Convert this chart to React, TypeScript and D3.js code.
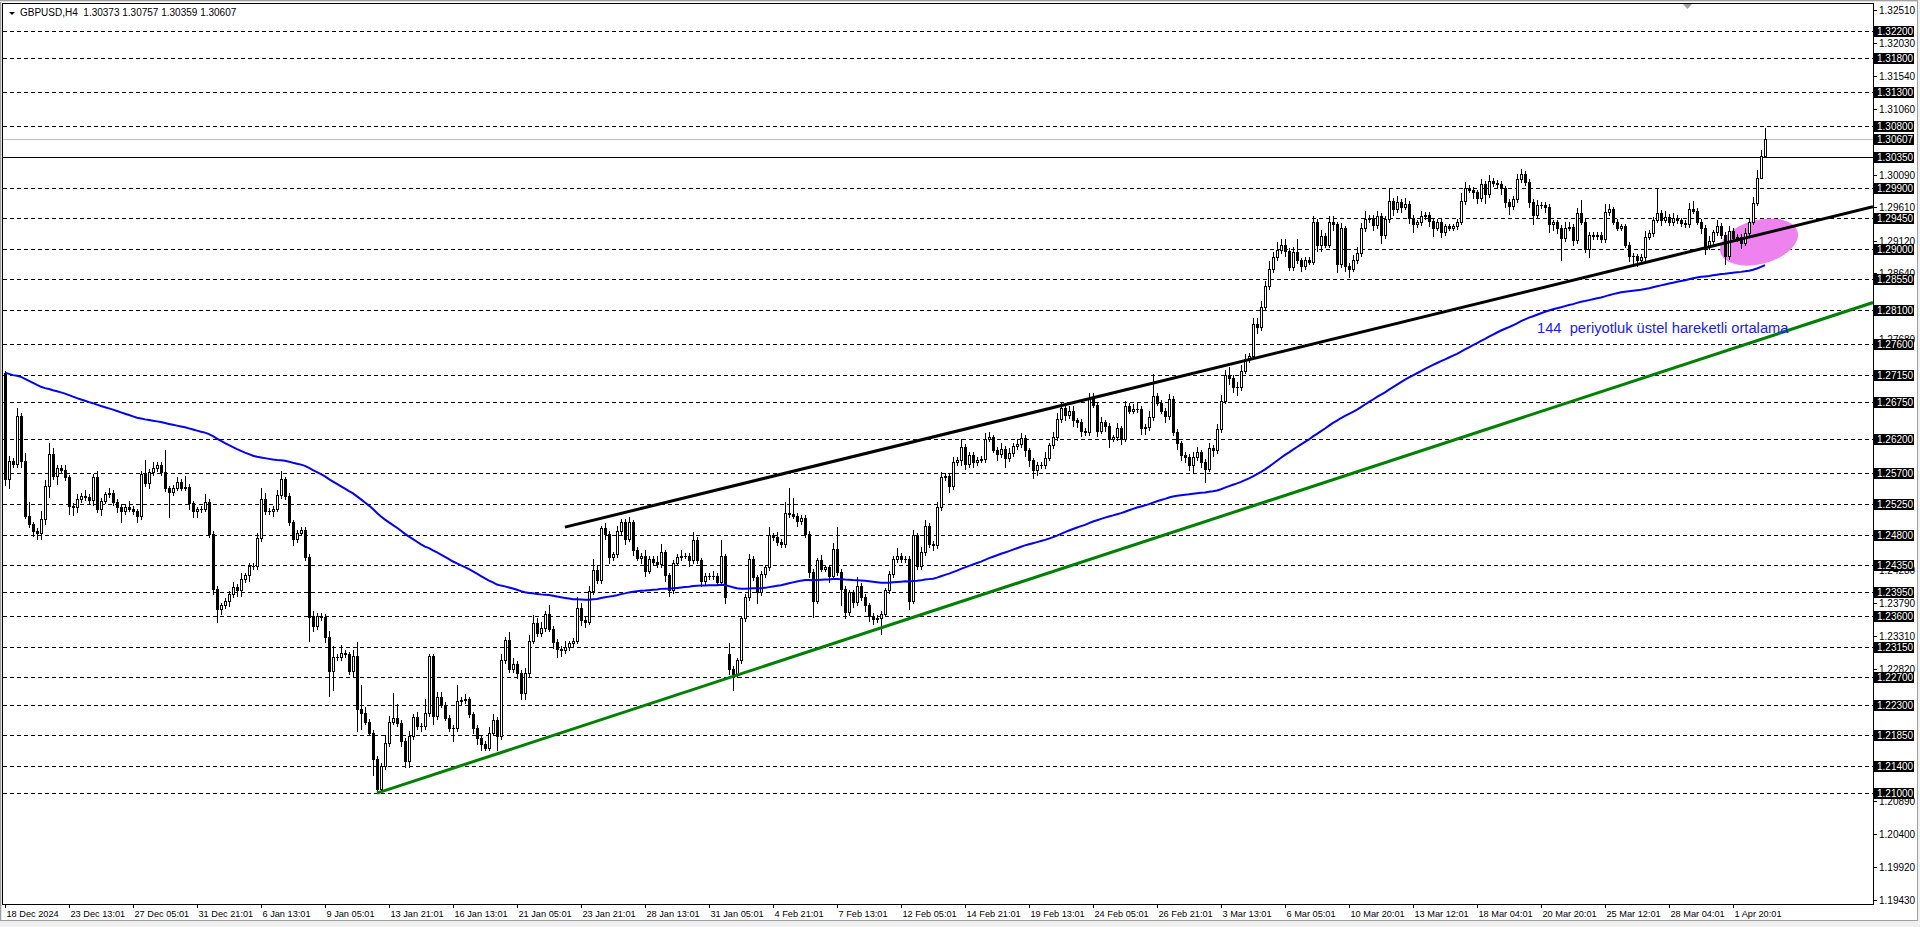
import { useRef, useEffect } from 'react';
import * as d3 from 'd3';

// GBPUSD H4 closes, pips above 1.20000, bar 0 = 18 Dec 2024
const closePips = [
    561, 588, 584, 654, 588, 508, 495, 486, 482, 503,
    552, 599, 566, 578, 575, 564, 522, 521, 532, 537,
    535, 531, 565, 517, 530, 539, 541, 528, 521, 514,
    521, 518, 514, 507, 569, 556, 572, 578, 582, 572,
    548, 542, 549, 557, 549, 550, 526, 514, 517, 518,
    528, 481, 400, 371, 376, 383, 393, 403, 398, 415,
    420, 434, 434, 475, 533, 515, 515, 518, 538, 561,
    537, 498, 473, 483, 487, 447, 359, 346, 361, 359,
    330, 279, 300, 300, 306, 304, 279, 302, 223, 218,
    205, 189, 150, 106, 140, 174, 205, 211, 203, 177,
    147, 184, 212, 199, 199, 218, 301, 213, 241, 230,
    211, 196, 196, 235, 237, 238, 216, 196, 181, 172,
    167, 189, 208, 184, 296, 325, 282, 290, 277, 247,
    276, 324, 350, 335, 343, 364, 342, 322, 312, 310,
    315, 320, 324, 372, 355, 352, 397, 428, 413, 489,
    481, 447, 451, 485, 499, 474, 498, 458, 446, 449,
    427, 444, 440, 437, 454, 420, 398, 439, 447, 449,
    449, 442, 472, 442, 412, 419, 419, 419, 411, 448,
    388, 283, 275, 295, 357, 388, 444, 417, 395, 422,
    432, 479, 476, 469, 466, 512, 510, 508, 500, 505,
    481, 425, 383, 442, 430, 432, 419, 459, 425, 400,
    366, 395, 381, 405, 388, 376, 361, 356, 358, 364,
    398, 422, 444, 449, 444, 444, 383, 479, 434, 454,
    493, 466, 465, 520, 564, 566, 551, 586, 590, 609,
    584, 597, 587, 590, 591, 621, 623, 605, 598, 606,
    592, 600, 610, 613, 622, 604, 589, 575, 582, 582,
    593, 611, 623, 650, 666, 656, 661, 648, 646, 633,
    631, 680, 671, 633, 645, 640, 621, 623, 636, 621,
    669, 662, 664, 665, 636, 638, 653, 684, 674, 662,
    654, 679, 631, 614, 597, 594, 583, 594, 601, 587,
    577, 607, 604, 635, 677, 714, 710, 697, 697, 721,
    738, 743, 790, 785, 815, 845, 870, 888, 898, 906,
    897, 873, 895, 883, 875, 884, 881, 940, 905, 919,
    906, 940, 936, 878, 930, 875, 871, 883, 894, 930,
    944, 945, 935, 948, 920, 944, 970, 958, 969, 962,
    966, 946, 936, 939, 948, 950, 941, 931, 940, 925,
    933, 931, 933, 940, 970, 990, 987, 983, 975, 995,
    980, 1000, 997, 995, 989, 969, 963, 973, 1002, 1010,
    998, 969, 949, 964, 965, 962, 936, 939, 931, 916,
    931, 932, 913, 952, 940, 900, 921, 919, 921, 914,
    954, 958, 940, 931, 933, 906, 890, 889, 883, 888,
    918, 923, 943, 953, 943, 947, 939, 945, 942, 938,
    936, 959, 956, 940, 931, 904, 911, 924, 934, 920,
    889, 926, 916, 918, 909, 923, 940, 968, 1004, 1037,
    1061,
];

// opens that don't follow the previous close (first bar, 3 Feb gap)
const openPips: Record<number, number> = { 0: 717, 181: 305 };

// wick length per bar, one digit each, in 4 pip units
const upperWicks = [
    '1213135113', '2421121121', '2112112111', '1211151211', '8112141111',
    '3111111212', '1112421123', '1111111211', '1241311259', '2111132951',
    '1212151122', '1116121111', '1221213211', '2232213111', '2114212421',
    '2112112111', '2112311112', '1131111216', '1411112111', '1312149611',
    '1111211281', '1113111111', '1113111212', '2112211213', '1111122112',
    '1212211111', '2122212211', '1221211121', '2122112811', '1211111221',
    '1212223122', '2122223232', '2125111212', '1221211222', '3112115121',
    '2111211111', '1111321112', '1211111122', '1112111111', '2212511111',
    '3211111111', '2119121211', '1231112121', '1211121232', '4',
].join('');
const lowerWicks = [
    '2311211222', '2413113321', '1121211124', '1112112111', '1911112221',
    '1125212122', '1211111211', '1121119211', '2971111286', '1161111112',
    '2211211311', '1151111222', '1115111122', '2111111232', '1111221111',
    '2211121212', '2111122111', '1211211111', '2261111141', '1111111121',
    '1261112116', '2121122216', '1111113111', '1121112112', '2121111121',
    '3111122321', '1111121222', '1112123112', '1111221111', '2112222312',
    '5121112231', '1112111111', '2111211122', '1123123111', '1121311212',
    '1231112312', '1111111221', '3111223111', '1231123228', '1121113111',
    '1111112321', '1111211111', '1111231111', '3111211110', '0',
].join('');

const priceLevels = [
    1.322, 1.318, 1.313, 1.308, 1.299, 1.2945, 1.29, 1.2855, 1.281, 1.276,
    1.2715, 1.2675, 1.262, 1.257, 1.2525, 1.248, 1.2435, 1.2395, 1.236, 1.2315,
    1.227, 1.223, 1.2185, 1.214, 1.21,
];
const solidLevel = 1.3035;
const bidPrice = 1.30607;

const priceTicks = [
    '1.32510', '1.32030', '1.31540', '1.31060', '1.30570', '1.30090', '1.29610',
    '1.29120', '1.28640', '1.28160', '1.27680', '1.27190', '1.26700', '1.26220',
    '1.25740', '1.25250', '1.24770', '1.24280', '1.23790', '1.23310', '1.22820',
    '1.22340', '1.21860', '1.21370', '1.20890', '1.20400', '1.19920', '1.19430',
];

const timeLabels = [
    '18 Dec 2024', '23 Dec 13:01', '27 Dec 05:01', '31 Dec 21:01', '6 Jan 13:01',
    '9 Jan 05:01', '13 Jan 21:01', '16 Jan 13:01', '21 Jan 05:01', '23 Jan 21:01',
    '28 Jan 13:01', '31 Jan 05:01', '4 Feb 21:01', '7 Feb 13:01', '12 Feb 05:01',
    '14 Feb 21:01', '19 Feb 13:01', '24 Feb 05:01', '26 Feb 21:01', '3 Mar 13:01',
    '6 Mar 05:01', '10 Mar 20:01', '13 Mar 12:01', '18 Mar 04:01', '20 Mar 20:01',
    '25 Mar 12:01', '28 Mar 04:01', '1 Apr 20:01',
];
const barsPerLabel = 16;

const emaPeriod = 144;
const emaStart = 1.2718;

const blackTrend = [{ bar: 140, price: 1.2491 }, { bar: 440, price: 1.2923 }];
const greenTrend = [{ bar: 93, price: 1.21 }, { bar: 440, price: 1.2769 }];
const highlight = { bar: 438.5, price: 1.291 };
const note = { bar: 383, price: 1.2776, text: '144  periyotluk üstel hareketli ortalama' };
const header = 'GBPUSD,H4  1.30373 1.30757 1.30359 1.30607';

const FONT = "'Liberation Sans', Arial, sans-serif";

export default function App() {
    const svgRef = useRef<SVGSVGElement | null>(null);

    useEffect(() => {
        if (!svgRef.current) return;
        const svg = d3.select(svgRef.current);
        svg.selectAll('*').remove();

        const left = 3, top = 4, right = 1873, bottom = 904;
        const n = closePips.length;

        const x = d3.scaleLinear().domain([0, n - 1]).range([5, 5 + 4 * (n - 1)]);
        const y = d3.scaleLinear().domain([1.1943, 1.3251]).range([900, 10]);
        const toPrice = (p: number) => 1.2 + p / 10000;
        const ry = (p: number) => Math.round(y(p)) + 0.5;

        const bars = closePips.map((c, i) => {
            const o = openPips[i] ?? closePips[i - 1];
            const hi = Math.max(o, c) + 4 * +upperWicks[i];
            const lo = Math.min(o, c) - 4 * +lowerWicks[i];
            return { i, o: toPrice(o), c: toPrice(c), h: toPrice(hi), l: toPrice(lo) };
        });

        svg.append('rect').attr('width', 1920).attr('height', 927).attr('fill', '#fff');

        svg.append('defs').append('clipPath').attr('id', 'plot')
            .append('rect')
            .attr('x', left).attr('y', top)
            .attr('width', right - left).attr('height', bottom - top);

        const g = svg.append('g').attr('clip-path', 'url(#plot)');

        // horizontal levels
        g.append('g').selectAll('line').data(priceLevels).join('line')
            .attr('x1', left).attr('x2', right)
            .attr('y1', d => ry(d)).attr('y2', d => ry(d))
            .attr('stroke', '#000')
            .attr('stroke-dasharray', '4,3')
            .attr('shape-rendering', 'crispEdges');

        g.append('line')
            .attr('x1', left).attr('x2', right)
            .attr('y1', ry(bidPrice)).attr('y2', ry(bidPrice))
            .attr('stroke', '#c0c0c0').attr('shape-rendering', 'crispEdges');

        g.append('line')
            .attr('x1', left).attr('x2', right)
            .attr('y1', ry(solidLevel)).attr('y2', ry(solidLevel))
            .attr('stroke', '#000').attr('shape-rendering', 'crispEdges');

        // highlighted zone
        const ex = x(highlight.bar), ey = y(highlight.price);
        g.append('ellipse')
            .attr('cx', ex).attr('cy', ey)
            .attr('rx', 40).attr('ry', 22)
            .attr('transform', `rotate(-15 ${ex} ${ey})`)
            .attr('fill', '#EE82EE');

        // candles
        const cg = g.append('g').attr('shape-rendering', 'crispEdges');
        bars.forEach(b => {
            const cx = Math.round(x(b.i));
            const yh = Math.round(y(b.h));
            const yl = Math.round(y(b.l));
            const yt = Math.round(y(Math.max(b.o, b.c)));
            const yb = Math.round(y(Math.min(b.o, b.c)));
            cg.append('rect').attr('x', cx).attr('y', yh)
                .attr('width', 1).attr('height', yl - yh + 1).attr('fill', '#000');
            cg.append('rect').attr('x', cx - 1).attr('y', yt)
                .attr('width', 3).attr('height', yb - yt + 1).attr('fill', '#000');
            if (b.c > b.o && yb - yt >= 2) {
                cg.append('rect').attr('x', cx).attr('y', yt + 1)
                    .attr('width', 1).attr('height', yb - yt - 1).attr('fill', '#fff');
            }
        });

        // 144 EMA
        const alpha = 2 / (emaPeriod + 1);
        const ema: number[] = [];
        bars.forEach((b, i) => {
            ema.push(i === 0 ? emaStart : ema[i - 1] + alpha * (b.c - ema[i - 1]));
        });
        const line = d3.line<number>().x((_, i) => x(i)).y(d => y(d));
        g.append('path')
            .datum(ema)
            .attr('fill', 'none')
            .attr('stroke', '#0000ff')
            .attr('stroke-width', 2)
            .attr('d', line);

        // trend lines (rays to the right edge)
        const endBar = x.invert(right);
        const ray = (pts: { bar: number; price: number }[]) => {
            const [a, b] = pts;
            const slope = (b.price - a.price) / (b.bar - a.bar);
            return [[x(a.bar), y(a.price)], [x(endBar), y(a.price + slope * (endBar - a.bar))]] as [number, number][];
        };
        g.append('path')
            .attr('d', d3.line()(ray(greenTrend)))
            .attr('stroke', '#008000').attr('stroke-width', 3).attr('fill', 'none');
        g.append('path')
            .attr('d', d3.line()(ray(blackTrend)))
            .attr('stroke', '#000').attr('stroke-width', 3).attr('fill', 'none');

        g.append('text')
            .attr('x', x(note.bar)).attr('y', y(note.price))
            .attr('fill', '#1a1aff')
            .style('font-family', FONT).style('font-size', '14.7px')
            .style('white-space', 'pre')
            .text(note.text);

        // frame
        svg.append('rect')
            .attr('x', left - 0.5).attr('y', top - 0.5)
            .attr('width', right - left + 1).attr('height', bottom - top + 1)
            .attr('fill', 'none').attr('stroke', '#000')
            .attr('shape-rendering', 'crispEdges');

        // window border
        const border = svg.append('g').attr('stroke', '#a0a0a0').attr('shape-rendering', 'crispEdges');
        border.append('line').attr('x1', 0.5).attr('x2', 0.5).attr('y1', 0).attr('y2', 920);
        border.append('line').attr('x1', 1.5).attr('x2', 1.5).attr('y1', 0).attr('y2', 920).attr('stroke', '#e0e0e0');
        border.append('line').attr('x1', 0).attr('x2', 1918).attr('y1', 0.5).attr('y2', 0.5);
        border.append('line').attr('x1', 0).attr('x2', 1918).attr('y1', 1.5).attr('y2', 1.5).attr('stroke', '#e0e0e0');
        border.append('line').attr('x1', 1917.5).attr('x2', 1917.5).attr('y1', 0).attr('y2', 920.5);
        border.append('line').attr('x1', 0).attr('x2', 1918).attr('y1', 920.5).attr('y2', 920.5);
        svg.append('rect').attr('x', 0).attr('y', 921).attr('width', 1920).attr('height', 6).attr('fill', '#f0f0f0');
        svg.append('rect').attr('x', 1918).attr('y', 0).attr('width', 2).attr('height', 927).attr('fill', '#f0f0f0');

        const labelled = [...priceLevels, solidLevel, bidPrice];

        // price axis ticks; labels fully covered by a line label are skipped
        const axis = svg.append('g').style('font-family', FONT).style('font-size', '10px');
        priceTicks.forEach(t => {
            const yy = ry(+t);
            axis.append('line')
                .attr('x1', right).attr('x2', right + 4)
                .attr('y1', yy).attr('y2', yy)
                .attr('stroke', '#000').attr('shape-rendering', 'crispEdges');
            const covered = labelled.some(p => Math.abs(y(p) - y(+t)) < 4.5);
            if (covered) return;
            axis.append('text')
                .attr('x', right + 6).attr('y', yy + 3.5)
                .attr('fill', '#000')
                .text(t);
        });

        // labels of the horizontal lines
        labelled.forEach(p => {
            const yy = Math.round(y(p));
            axis.append('rect')
                .attr('x', right + 1).attr('y', yy - 5)
                .attr('width', 40).attr('height', 11)
                .attr('fill', '#000');
            axis.append('text')
                .attr('x', right + 4).attr('y', yy + 4)
                .attr('fill', '#fff')
                .text(p.toFixed(5));
        });

        // time axis
        timeLabels.forEach((t, k) => {
            const tx = Math.round(x(k * barsPerLabel)) + 0.5;
            axis.append('line')
                .attr('x1', tx).attr('x2', tx)
                .attr('y1', bottom).attr('y2', bottom + 4)
                .attr('stroke', '#000').attr('shape-rendering', 'crispEdges');
            axis.append('text')
                .attr('x', tx + 1).attr('y', 917)
                .attr('fill', '#000')
                .style('font-size', '9.2px')
                .text(t);
        });

        // header
        svg.append('path').attr('d', 'M9,12 L15,12 L12,15 Z').attr('fill', '#000');
        svg.append('text')
            .attr('x', 20).attr('y', 16)
            .attr('fill', '#000')
            .style('font-family', FONT).style('font-size', '10px')
            .style('white-space', 'pre')
            .text(header);

        // chart shift marker
        svg.append('path').attr('d', 'M1683,4 L1692,4 L1687.5,9 Z').attr('fill', '#a0a0a0');
    }, []);

    return (
        <svg
            ref={svgRef}
            width={1920}
            height={927}
            style={{ position: 'absolute', left: 0, top: 0, display: 'block' }}
        />
    );
}
